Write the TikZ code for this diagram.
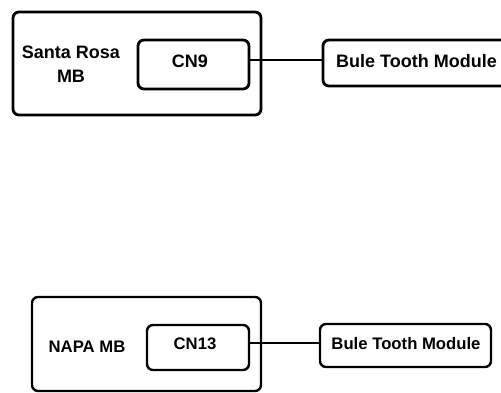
\documentclass[tikz,border=0pt]{standalone}
\usepackage{fontspec}
\setmainfont{Liberation Sans}
\begin{document}
\begin{tikzpicture}[x=1pt,y=-1pt,
  boxA/.style={draw,line width=2.8pt,rounded corners=6pt,inner sep=0pt},
  boxB/.style={draw,line width=2.4pt,rounded corners=6pt,inner sep=0pt},
  lblA/.style={font=\fontsize{18}{24}\selectfont\bfseries,inner sep=0pt},
  lblB/.style={font=\fontsize{16.7}{20}\selectfont\bfseries,inner sep=0pt}]
\useasboundingbox (0,0) rectangle (501,393);
\clip (0,0) rectangle (501,393);
% top diagram
\node[boxA,minimum width=248pt,minimum height=103pt] (mb1) at (137,63.5) {};
\node[lblA,align=center] (sr) at (71,64.5) {Santa Rosa\\MB};
\node[boxA,minimum width=111pt,minimum height=49pt] (cn9) at (193.5,64.5) {};
\node[lblA] (cn9t) at (190,61) {CN9};
\node[boxA,minimum width=186pt,minimum height=46pt] (bt1) at (416,63) {};
\node[lblA,anchor=west] (bt1t) at (336,61) {Bule Tooth Module};
\draw[line width=2.8pt] ([yshift=4.5pt]cn9.east) -- ([yshift=4.5pt]cn9.east -| bt1.west);
% bottom diagram
\node[boxB,minimum width=229pt,minimum height=94pt] (mb2) at (146.5,344) {};
\node[lblB] (napa) at (87,347) {NAPA MB};
\node[boxB,minimum width=102pt,minimum height=45pt] (cn13) at (198,347.5) {};
\node[lblB] (cn13t) at (195,344) {CN13};
\node[boxB,minimum width=171pt,minimum height=43pt] (bt2) at (405.5,345.5) {};
\node[lblB] (bt2t) at (406,344) {Bule Tooth Module};
\draw[line width=2.4pt] ([yshift=4.5pt]cn13.east) -- ([yshift=4.5pt]cn13.east -| bt2.west);
\end{tikzpicture}
\end{document}
